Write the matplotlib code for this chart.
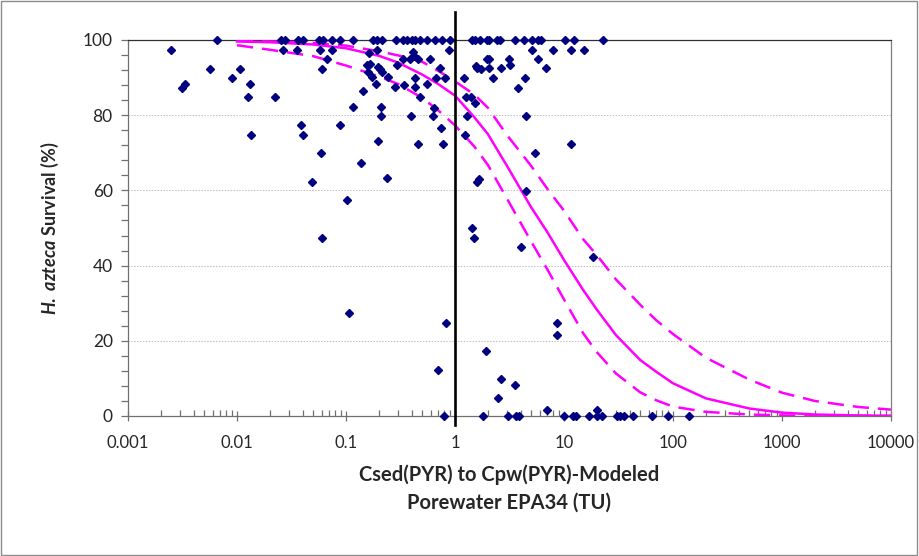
import matplotlib
matplotlib.use("Agg")
import matplotlib.pyplot as plt
from matplotlib.ticker import FixedLocator, NullFormatter
from matplotlib.patches import Rectangle

plt.rcParams["font.family"] = ["Lato", "DejaVu Sans"]
plt.rcParams["mathtext.fontset"] = "custom"
plt.rcParams["mathtext.it"] = "Lato:italic:bold"
plt.rcParams["mathtext.rm"] = "Lato:bold"

# Observed survival vs. toxic units
tu_obs = [
    0.00248, 0.00311, 0.00333, 0.0065, 0.00565, 0.00893, 0.0107, 0.0132, 0.0127, 0.0134, 0.0223,
    # 100 % survival, below 1 TU
    0.0252, 0.0275, 0.0365, 0.040, 0.057, 0.062, 0.074, 0.088, 0.115, 0.178, 0.191, 0.213,
    0.288, 0.336, 0.360, 0.401, 0.430, 0.477, 0.549, 0.655, 0.755, 0.899,
    # 100 % survival, above 1 TU
    1.42, 1.52, 1.69, 1.95, 2.06, 2.41, 2.59, 3.55, 4.29, 5.05, 5.81, 6.11, 10.2, 12.4, 22.6,
    # partial survival, below 1 TU
    0.0262, 0.0353, 0.0577, 0.074, 0.0665, 0.0598, 0.163, 0.191, 0.155, 0.165, 0.158,
    0.198, 0.205, 0.212, 0.174, 0.188, 0.144, 0.115, 0.208, 0.208, 0.088, 0.0384, 0.040,
    0.059, 0.136, 0.0485, 0.239, 0.103, 0.198, 0.292, 0.331, 0.409, 0.42, 0.386, 0.46,
    0.282, 0.340, 0.43, 0.43, 0.549, 0.244, 0.59, 0.728, 0.675, 0.81, 0.875, 0.477, 0.641,
    0.624, 0.394, 0.745, 0.46, 0.77, 0.0598, 0.107, 0.822, 0.703, 0.79,
    # partial survival, above 1 TU
    5.05, 7.98, 11.7, 15.2, 5.81, 6.84, 1.97, 2.03, 3.15, 3.2, 1.56, 1.58, 1.72, 2.07, 2.64,
    2.21, 4.38, 3.81, 1.21, 1.26, 1.39, 1.52, 1.29, 4.45, 1.24, 11.7, 5.42, 1.60, 1.67, 4.48,
    1.44, 1.49, 4.04, 18.3, 8.57, 8.57, 1.91, 2.62, 3.57, 2.46, 6.92, 19.9,
    # no survivors
    1.79, 3.08, 3.63, 3.89, 10.0, 12.2, 12.9, 17.1, 20.2, 22.2, 30.4, 32.6, 35.5, 42.7,
    63.8, 90.6, 141,
]
survival_obs = [
    97.3, 87.3, 88.2, 100, 92.4, 89.8, 92.4, 88.2, 84.8, 74.8, 84.9,
    100, 100, 100, 100, 100, 100, 100, 100, 100, 100, 100, 100,
    100, 100, 100, 100, 100, 100, 100, 100, 100, 100,
    100, 100, 100, 100, 100, 100, 100, 100, 100, 100, 100, 100, 100, 100, 100,
    97.3, 97.3, 97.3, 97.3, 94.9, 92.3, 96.6, 97.3, 93.4, 93.6, 91.4,
    92.8, 92.2, 91.6, 90.1, 88.3, 86.5, 82.3, 82.3, 79.9, 77.4, 77.4, 74.7,
    69.9, 67.4, 62.3, 63.2, 57.4, 73.2, 93.4, 95.0, 96.7, 95.7, 95.0, 95.0,
    87.6, 88.0, 89.8, 87.4, 88.2, 90.1, 95.0, 92.5, 89.8, 89.8, 97.3, 84.9, 81.8,
    79.9, 79.9, 76.5, 72.3, 72.3, 47.4, 27.3, 24.8, 12.2, 0,
    97.3, 97.3, 97.3, 97.3, 94.9, 92.5, 94.9, 94.9, 94.9, 93.4, 93.1, 92.5, 92.3, 92.5, 92.5,
    89.8, 89.8, 87.3, 89.8, 84.9, 84.9, 83.3, 79.9, 79.9, 74.7, 72.3, 69.9, 62.3, 62.9, 59.8,
    49.9, 47.4, 44.9, 42.4, 24.8, 21.5, 17.3, 9.8, 8.2, 4.9, 1.5, 1.5,
    0, 0, 0, 0, 0, 0, 0, 0, 0, 0, 0, 0, 0, 0,
    0, 0, 0,
]

# Modeled dose-response curve and its bounds
tu_curve = [0.01, 0.02, 0.05, 0.1, 0.2, 0.3, 0.5, 0.7, 1, 1.5, 2, 3, 5, 7, 10, 15, 20,
            30, 50, 70, 100, 200, 500, 1000, 2000, 5000, 10000]
surv_fit = [99.6, 99.4, 98.8, 97.8, 95.8, 94.0, 90.8, 88.3, 85.2, 79.5, 75.0, 66.5, 55.5,
            49.0, 41.5, 33.5, 28.3, 21.5, 14.9, 11.8, 8.7, 4.7, 2.0, 0.9, 0.4, 0.15, 0.05]
surv_upper = [99.8, 99.6, 99.2, 98.5, 97.0, 95.9, 94.2, 91.8, 89.0, 85.5, 82.0, 74.7, 66.5,
              60.5, 54.6, 47.0, 42.8, 36.3, 29.6, 25.5, 21.8, 15.5, 9.7, 6.2, 4.0, 2.4, 1.7]
surv_lower = [98.6, 97.4, 95.7, 93.2, 90.3, 88.3, 84.6, 81.3, 77.3, 71.7, 66.8, 57.8, 46.4,
              39.1, 31.0, 22.0, 17.0, 11.3, 6.3, 4.2, 2.5, 1.1, 0.4, 0.15, 0.05, 0.02, 0.01]

xtick_vals = [0.001, 0.01, 0.1, 1, 10, 100, 1000, 10000]
xtick_labels = ["0.001", "0.01", "0.1", "1", "10", "100", "1000", "10000"]
ytick_vals = [0, 20, 40, 60, 80, 100]
threshold_tu = 1

fig = plt.figure(figsize=(9.19, 5.56), dpi=100)
ax = fig.add_axes([0.1393, 0.2518, 0.8302, 0.6763])

magenta = "#FF00FF"
dash = (0, (6.5, 3.6))
ax.plot(tu_curve, surv_fit, color=magenta, lw=1.8, zorder=3)
ax.plot(tu_curve, surv_upper, color=magenta, lw=1.8, ls=dash, zorder=3)
ax.plot(tu_curve, surv_lower, color=magenta, lw=1.8, ls=dash, zorder=3)

ax.plot(tu_obs, survival_obs, ls="none", marker="D", ms=3.9, color="#000080",
        mec="#000080", zorder=4, clip_on=False)

ax.plot([threshold_tu, threshold_tu], [-2.5, 107.5], color="black", lw=1.9,
        zorder=5, clip_on=False)

ax.set_xscale("log")
ax.set_xlim(0.001, 10000)
ax.set_ylim(0, 100)

ax.xaxis.set_major_locator(FixedLocator(xtick_vals))
ax.set_xticklabels(xtick_labels)
ax.xaxis.set_minor_locator(FixedLocator(
    [m * 10.0 ** e for e in range(-3, 4) for m in range(2, 10)]))
ax.xaxis.set_minor_formatter(NullFormatter())
ax.set_yticks(ytick_vals)
ax.yaxis.set_minor_locator(FixedLocator([v for v in range(0, 101, 4) if v % 20]))

ax.tick_params(axis="x", which="major", direction="inout", length=7, width=0.9,
               color="#707070", pad=10, labelsize=12, labelcolor="#262626")
ax.tick_params(axis="x", which="minor", direction="in", length=4, width=0.9, color="#707070")
ax.tick_params(axis="y", which="major", direction="out", length=5, width=0.9,
               color="#707070", pad=6, labelsize=12.5, labelcolor="#262626")
ax.tick_params(axis="y", which="minor", direction="out", length=5, width=0.9, color="#707070")

ax.grid(axis="y", which="major", color="#BDBDBD", ls=(0, (1.5, 1.5)), lw=0.7)
ax.set_axisbelow(True)

for side in ["left", "bottom"]:
    ax.spines[side].set_color("#707070")
    ax.spines[side].set_linewidth(0.9)
ax.spines["top"].set_color("#303030")
ax.spines["top"].set_linewidth(0.9)
ax.spines["right"].set_color("#808080")
ax.spines["right"].set_linewidth(0.9)

ax.set_xlabel("Csed(PYR) to Cpw(PYR)-Modeled\nPorewater EPA34 (TU)", fontsize=14.5,
              fontweight="bold", color="#262626", labelpad=10, linespacing=1.45)
ax.set_ylabel(r"$\mathit{H.\ azteca}$ Survival (%)", fontsize=13, fontweight="bold",
              color="#262626", labelpad=16)

fig.patches.append(Rectangle((0.001, 0.001), 0.997, 0.997, transform=fig.transFigure,
                             fill=False, edgecolor="#8C8C8C", lw=1.0))

fig.savefig("out.png", dpi=100)
